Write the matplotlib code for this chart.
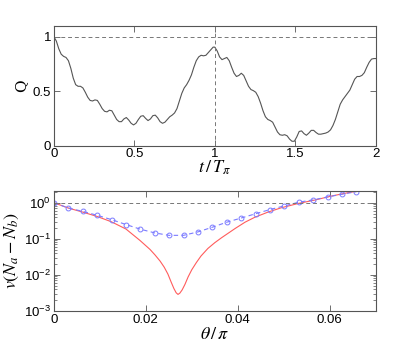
import numpy as np
import matplotlib
matplotlib.use('Agg')
import matplotlib.pyplot as plt

plt.rcParams['font.family'] = ['Liberation Sans', 'DejaVu Sans']
plt.rcParams['mathtext.fontset'] = 'stix'

# top panel: Q(t)
t_vals = [0, 0.015, 0.03, 0.045, 0.06, 0.075, 0.09, 0.105, 0.12, 0.135,
          0.15, 0.165, 0.18, 0.195, 0.21, 0.225, 0.24, 0.255, 0.27, 0.285,
          0.30, 0.315, 0.33, 0.345, 0.36, 0.375, 0.39, 0.405, 0.42, 0.435,
          0.45, 0.465, 0.48, 0.495, 0.51, 0.525, 0.54, 0.555, 0.57, 0.585,
          0.60, 0.615, 0.63, 0.645, 0.66, 0.675, 0.69, 0.705, 0.72, 0.735,
          0.75, 0.765, 0.78, 0.795, 0.81, 0.825, 0.84, 0.855, 0.87, 0.885,
          0.90, 0.915, 0.93, 0.945, 0.96, 0.975, 0.99, 1.0, 1.015, 1.03,
          1.045, 1.06, 1.075, 1.09, 1.105, 1.12, 1.135, 1.15, 1.165, 1.18,
          1.195, 1.21, 1.225, 1.24, 1.255, 1.27, 1.285, 1.30, 1.315, 1.33,
          1.345, 1.36, 1.375, 1.39, 1.405, 1.42, 1.435, 1.45, 1.465, 1.48,
          1.495, 1.51, 1.525, 1.54, 1.555, 1.57, 1.585, 1.60, 1.615, 1.63,
          1.645, 1.66, 1.675, 1.69, 1.705, 1.72, 1.735, 1.75, 1.765, 1.78,
          1.795, 1.81, 1.825, 1.84, 1.855, 1.87, 1.885, 1.90, 1.915, 1.93,
          1.945, 1.96, 1.975, 1.99, 2.0]
q_vals = [1.0, 0.96, 0.89, 0.84, 0.82, 0.81, 0.78, 0.71, 0.62, 0.56,
          0.545, 0.545, 0.53, 0.49, 0.445, 0.415, 0.41, 0.42, 0.415, 0.38,
          0.34, 0.315, 0.31, 0.325, 0.32, 0.28, 0.24, 0.22, 0.22, 0.245,
          0.258, 0.235, 0.205, 0.19, 0.205, 0.24, 0.27, 0.275, 0.25, 0.23,
          0.245, 0.275, 0.28, 0.255, 0.22, 0.205, 0.215, 0.24, 0.265, 0.28,
          0.30, 0.34, 0.41, 0.48, 0.53, 0.56, 0.60, 0.65, 0.72, 0.78,
          0.815, 0.83, 0.825, 0.83, 0.855, 0.88, 0.905, 0.905, 0.87, 0.815,
          0.79, 0.80, 0.81, 0.78, 0.72, 0.665, 0.635, 0.645, 0.665, 0.645,
          0.595, 0.545, 0.515, 0.505, 0.49, 0.45, 0.39, 0.32, 0.265, 0.24,
          0.23, 0.215, 0.17, 0.125, 0.10, 0.095, 0.10, 0.09, 0.06, 0.04,
          0.04, 0.08, 0.13, 0.135, 0.11, 0.095, 0.115, 0.14, 0.14, 0.12,
          0.105, 0.105, 0.11, 0.115, 0.125, 0.145, 0.185, 0.24, 0.31, 0.38,
          0.42, 0.45, 0.48, 0.51, 0.56, 0.61, 0.635, 0.635, 0.645, 0.67,
          0.72, 0.765, 0.795, 0.80, 0.80]

# bottom panel: v(Na - Nb) vs theta/pi (log10 of v for the red line)
theta_red = [0, 0.00312, 0.00624, 0.00936, 0.01248, 0.01567, 0.01871, 0.0209,
             0.022, 0.0231, 0.0240, 0.0248, 0.0255, 0.0261, 0.0266, 0.0270,
             0.0274, 0.0279, 0.0285, 0.0292, 0.0300, 0.0310, 0.0320, 0.0335,
             0.0350, 0.0365, 0.0380, 0.0395, 0.0416, 0.0437, 0.0466,
             0.0495, 0.0532, 0.0568, 0.0604, 0.0640, 0.0662]
logv_red = [0, -0.148, -0.26, -0.38, -0.528, -0.73, -1.046, -1.296,
            -1.45, -1.62, -1.79, -1.98, -2.2, -2.38, -2.5, -2.545,
            -2.51, -2.42, -2.27, -2.06, -1.86, -1.66, -1.48, -1.27,
            -1.11, -0.97, -0.84, -0.71, -0.54, -0.405, -0.26,
            -0.14, -0.02, 0.074, 0.185, 0.278, 0.324]
v_red = [10 ** l for l in logv_red]

theta_blue = [i * 0.003135 for i in range(22)]
v_blue = [1.0, 0.711, 0.575, 0.447, 0.339, 0.248, 0.184, 0.145, 0.124, 0.1245,
          0.155, 0.209, 0.288, 0.376, 0.494, 0.646, 0.817, 1.035, 1.2, 1.445,
          1.72, 2.02]

fig = plt.figure(figsize=(4.15, 3.5), dpi=100)
ax1 = fig.add_axes([0.130, 0.584, 0.775, 0.342])
ax2 = fig.add_axes([0.130, 0.112, 0.775, 0.342])

frame = '#555555'
for ax in (ax1, ax2):
    for s in ax.spines.values():
        s.set_color(frame)
        s.set_linewidth(0.8)
    ax.tick_params(direction='in', which='both', top=True, right=True,
                   color=frame, labelsize=9.5, pad=2)
    ax.tick_params(which='major', length=4, width=0.6)
    ax.tick_params(which='minor', length=2, width=0.5)

ax1.plot(t_vals, q_vals, color='#555555', lw=0.8)
ax1.axhline(1, color='#777777', ls='--', lw=0.7, dashes=(4, 3))
ax1.axvline(1, color='#777777', ls='--', lw=0.7, dashes=(4, 3))
ax1.set_xlim(0, 2)
ax1.set_ylim(0, 1.1)
ax1.set_xticks([0, 0.5, 1, 1.5, 2])
ax1.set_xticklabels(['0', '0.5', '1', '1.5', '2'])
ax1.set_yticks([0, 0.5, 1])
ax1.set_yticklabels(['0', '0.5', '1'])
ax1.set_xlabel(r'$t\,/\,T_\pi$', fontsize=13, labelpad=-1)
ax1.set_ylabel('Q', fontsize=11, labelpad=3, family='DejaVu Serif')

ax2.semilogy(theta_red, v_red, color='#ff5c5c', lw=0.8)
ax2.semilogy(theta_blue, v_blue, color='#7b7bff', lw=0.8, ls='--',
             dashes=(4, 3), marker='o', ms=3.5, mfc='none', mew=0.7)
ax2.axhline(1, color='#777777', ls='--', lw=0.7, dashes=(4, 3))
ax2.set_xlim(0, 0.07)
ax2.set_ylim(1e-3, 2.1)
ax2.set_xticks([0, 0.02, 0.04, 0.06])
ax2.set_xticklabels(['0', '0.02', '0.04', '0.06'])
ax2.set_yticks([1e-3, 1e-2, 1e-1, 1])
ax2.set_yticklabels([r'$\mathregular{10^{-3}}$', r'$\mathregular{10^{-2}}$',
                     r'$\mathregular{10^{-1}}$', r'$\mathregular{10^{0}}$'])
ax2.set_xlabel(r'$\theta\,/\,\pi$', fontsize=13, labelpad=0)
ax2.set_ylabel(r'$v(N_a - N_b)$', fontsize=13, labelpad=2)

fig.savefig('out.png', dpi=100)
